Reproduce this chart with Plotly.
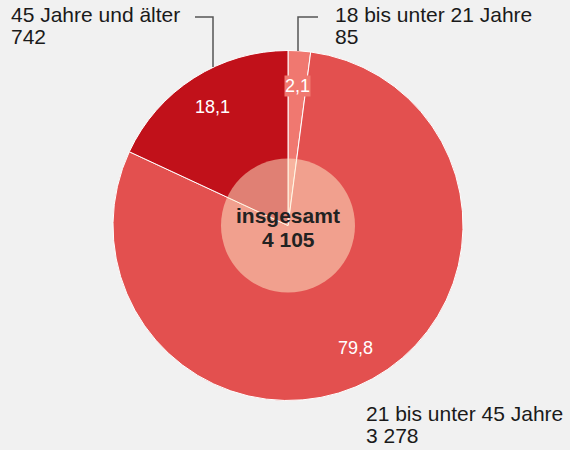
import math
import plotly.graph_objects as go

categories = ["18 bis unter 21 Jahre", "21 bis unter 45 Jahre", "45 Jahre und älter"]
values = [85, 3278, 742]
shares = [2.1, 79.8, 18.1]
colors = ["#f07870", "#e3504f", "#c1111a"]
total_label = "insgesamt"

W, H = 570, 450
cx, cy, R = 288, 225.5, 175
r_inner = 67

def fmt_int(v):
    return f"{v:,}".replace(",", " ")

def fmt_pct(p):
    return f"{p:.1f}".replace(".", ",")

def px(x):
    return x / W

def py(y):
    return 1 - y / H

fig = go.Figure(go.Pie(
    labels=categories, values=values, sort=False, direction="clockwise", rotation=0,
    marker=dict(colors=colors, line=dict(color="white", width=1)),
    textinfo="none", hoverinfo="skip", showlegend=False,
    domain=dict(x=[px(cx - R), px(cx + R)], y=[py(cy + R), py(cy - R)]),
))

font = "Liberation Sans, Arial, sans-serif"
ann = []
tot = sum(values)
cum = 0
for i, v in enumerate(values):
    a0 = cum / tot * 2 * math.pi
    cum += v
    a1 = cum / tot * 2 * math.pi
    am = (a0 + a1) / 2
    rr = 0.8 * R
    x = cx + rr * math.sin(am)
    y = cy - rr * math.cos(am)
    ann.append(dict(x=px(x), y=py(y), xref="paper", yref="paper", text=fmt_pct(shares[i]),
                    showarrow=False, font=dict(family=font, size=18, color="white"),
                    bgcolor=colors[i] if shares[i] < 5 else None, borderpad=0,
                    xanchor="center", yanchor="middle"))

outer = [
    (0, 333, 15, "left"),
    (1, 364, 413, "left"),
    (2, 9, 15, "left"),
]
for i, x, y, anc in outer:
    ann.append(dict(x=px(x), y=py(y), xref="paper", yref="paper", text=categories[i],
                    showarrow=False, font=dict(family=font, size=21, color="#1a1a1a"),
                    xanchor=anc, yanchor="middle"))
    ann.append(dict(x=px(x), y=py(y + 22), xref="paper", yref="paper", text=fmt_int(values[i]),
                    showarrow=False, font=dict(family=font, size=21, color="#1a1a1a"),
                    xanchor=anc, yanchor="middle"))

ann.append(dict(x=px(cx), y=py(cy - 10), xref="paper", yref="paper", text=f"<b>{total_label}</b>",
                showarrow=False, font=dict(family=font, size=21, color="#222"),
                xanchor="center", yanchor="middle"))
ann.append(dict(x=px(cx), y=py(cy + 14), xref="paper", yref="paper", text=f"<b>{fmt_int(tot)}</b>",
                showarrow=False, font=dict(family=font, size=21, color="#222"),
                xanchor="center", yanchor="middle"))

line = dict(color="#555555", width=1.5)
shapes = [
    dict(type="circle", xref="paper", yref="paper",
         x0=px(cx - r_inner), x1=px(cx + r_inner), y0=py(cy + r_inner), y1=py(cy - r_inner),
         fillcolor="rgba(255,240,205,0.5)", line=dict(width=0), layer="above"),
    dict(type="path", xref="paper", yref="paper",
         path=f"M {px(195)} {py(17)} L {px(213)} {py(17)} L {px(213)} {py(67)}", line=line),
    dict(type="path", xref="paper", yref="paper",
         path=f"M {px(298)} {py(51)} L {px(298)} {py(17)} L {px(318)} {py(17)}", line=line),
]

fig.update_layout(width=W, height=H, margin=dict(l=0, r=0, t=0, b=0),
                  paper_bgcolor="#f1f1f1", plot_bgcolor="#f1f1f1",
                  annotations=ann, shapes=shapes)
fig.write_html("out.html", config={"displayModeBar": False},
               post_script="document.body.style.margin='0';document.body.style.overflow='hidden';")
